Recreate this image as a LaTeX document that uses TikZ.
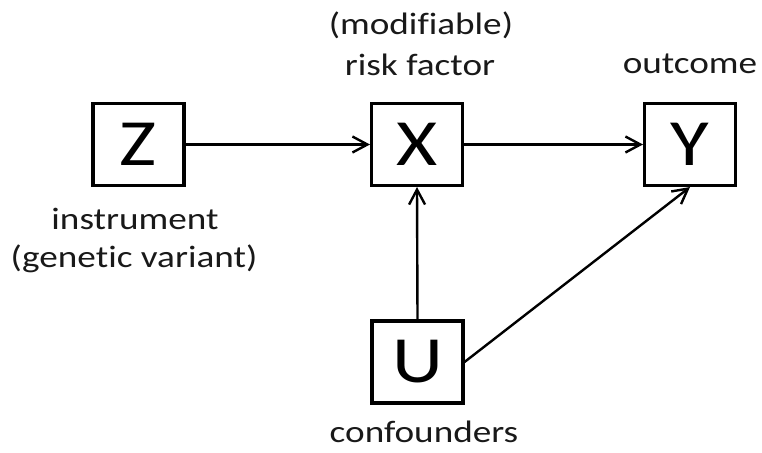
\documentclass[tikz,border=0pt]{standalone}
\usepackage{fontspec}
\setmainfont{Carlito}[FakeStretch=1.2, Ligatures=NoCommon]
\usetikzlibrary{arrows.meta}
\newlength{\du}
\setlength{\du}{15\unitlength}
\definecolor{dialinecolor}{rgb}{0.000000, 0.000000, 0.000000}
\definecolor{dialinetext}{rgb}{0.100000, 0.100000, 0.100000}
\tikzset{
  varbox/.style={draw=dialinecolor, fill=white, line width=0.22\du, minimum width=6.05\du, minimum height=5.45\du, inner sep=0pt, font=\fontsize{66}{70}\selectfont},
  varlabel/.style={anchor=base, inner sep=0pt, font=\fontsize{31}{37}\selectfont, text=dialinetext},
  causal/.style={draw=dialinecolor, line width=0.16\du, -{Straight Barb[length=15pt, width=16pt]}}
}

\begin{document}
\begin{tikzpicture}
\pgftransformxscale{1.000000}
\pgftransformyscale{-1.000000}
\useasboundingbox (0.000000\du,0.000000\du) rectangle (50.800000\du,30.133333\du);
% boxes
\node[varbox] (Z) at (9.233333\du,9.633333\du){Z};
\node[varbox] (X) at (27.800000\du,9.633333\du){X};
\node[varbox] (Y) at (46.000000\du,9.633333\du){Y};
\node[varbox] (U) at (27.833333\du,24.133333\du){U};
% labels
\node[varlabel] (lblmod) at (28.066667\du,2.333333\du){(modifiable)};
\node[varlabel] (lblrisk) at (28.000000\du,5.000000\du){risk factor};
\node[varlabel] (lblout) at (46.000000\du,4.866667\du){outcome};
\node[varlabel] (lblinst) at (9.000000\du,15.266667\du){instrument};
\node[varlabel] (lblgene) at (8.933333\du,17.800000\du){(genetic variant)};
\node[varlabel] (lblconf) at (28.266667\du,29.466667\du){confounders};
% arrows
\draw[causal] (Z.east)--(X.west);
\draw[causal] (X.east)--(Y.west);
\draw[causal] (U.north)--(X.south);
\draw[causal] (U.east)--(Y.south);
\end{tikzpicture}
\end{document}
